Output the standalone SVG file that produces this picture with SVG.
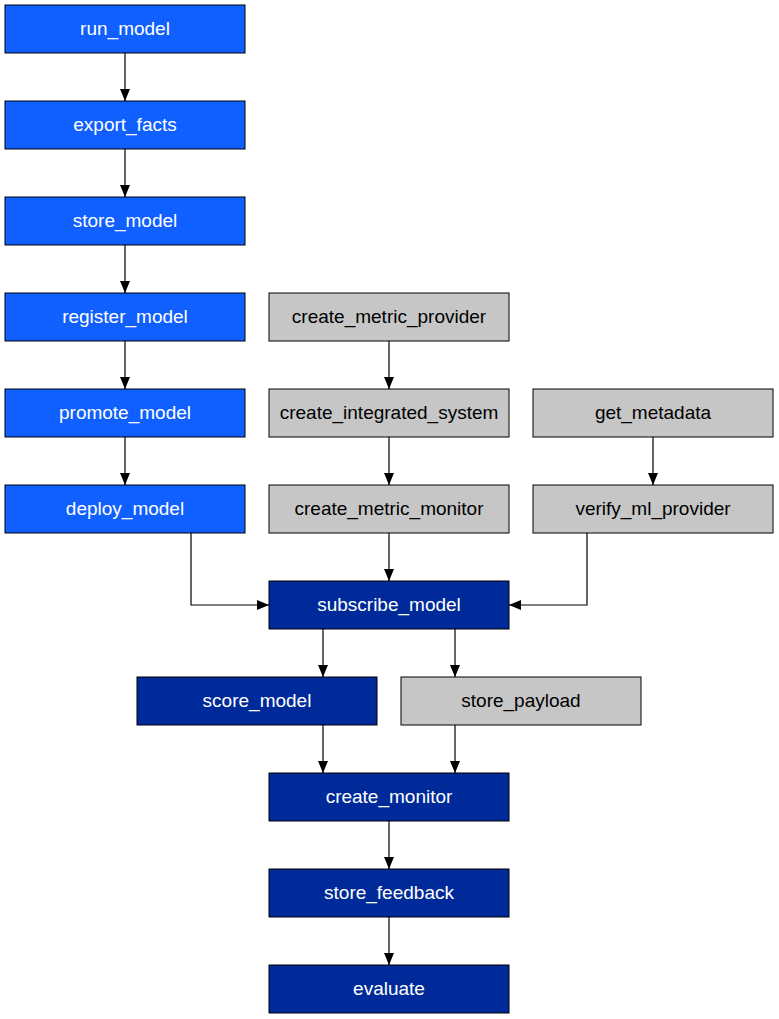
<svg xmlns="http://www.w3.org/2000/svg" width="779" height="1019" viewBox="0 0 779 1019">
<style>
.n rect{stroke:#000;stroke-width:1}
.b rect{fill:#1060ff}
.d rect{fill:#002a9a}
.g rect{fill:#c6c6c6}
text{font-family:"Liberation Sans",Arial,sans-serif;font-size:19px;text-anchor:middle}
.b text,.d text{fill:#fff}
.g text{fill:#000}
.e path{fill:none;stroke:#000;stroke-width:1.2;marker-end:url(#ah)}
</style>
<defs>
<marker id="ah" viewBox="0 0 12 10" refX="12" refY="5" markerWidth="12" markerHeight="10" markerUnits="userSpaceOnUse" orient="auto">
<path d="M0,0 L12,5 L0,10 z" fill="#000"/>
</marker>
</defs>
<rect width="779" height="1019" fill="#fff"/>
<g class="e" id="connectors">
<path d="M125,53 V101"/>
<path d="M125,149 V197"/>
<path d="M125,245 V293"/>
<path d="M125,341 V389"/>
<path d="M125,437 V485"/>
<path d="M389,341 V389"/>
<path d="M389,437 V485"/>
<path d="M653,437 V485"/>
<path d="M191,533 V605 H269"/>
<path d="M389,533 V581"/>
<path d="M587,533 V605 H509"/>
<path d="M323,629 V677"/>
<path d="M455,629 V677"/>
<path d="M323,725 V773"/>
<path d="M455,725 V773"/>
<path d="M389,821 V869"/>
<path d="M389,917 V965"/>
</g>
<g id="run_model" class="n b"><rect x="5" y="5" width="240" height="48"/><text x="125" y="35">run_model</text></g>
<g id="export_facts" class="n b"><rect x="5" y="101" width="240" height="48"/><text x="125" y="131">export_facts</text></g>
<g id="store_model" class="n b"><rect x="5" y="197" width="240" height="48"/><text x="125" y="227">store_model</text></g>
<g id="register_model" class="n b"><rect x="5" y="293" width="240" height="48"/><text x="125" y="323">register_model</text></g>
<g id="promote_model" class="n b"><rect x="5" y="389" width="240" height="48"/><text x="125" y="419">promote_model</text></g>
<g id="deploy_model" class="n b"><rect x="5" y="485" width="240" height="48"/><text x="125" y="515">deploy_model</text></g>
<g id="create_metric_provider" class="n g"><rect x="269" y="293" width="240" height="48"/><text x="389" y="323">create_metric_provider</text></g>
<g id="create_integrated_system" class="n g"><rect x="269" y="389" width="240" height="48"/><text x="389" y="419">create_integrated_system</text></g>
<g id="create_metric_monitor" class="n g"><rect x="269" y="485" width="240" height="48"/><text x="389" y="515">create_metric_monitor</text></g>
<g id="get_metadata" class="n g"><rect x="533" y="389" width="240" height="48"/><text x="653" y="419">get_metadata</text></g>
<g id="verify_ml_provider" class="n g"><rect x="533" y="485" width="240" height="48"/><text x="653" y="515">verify_ml_provider</text></g>
<g id="subscribe_model" class="n d"><rect x="269" y="581" width="240" height="48"/><text x="389" y="611">subscribe_model</text></g>
<g id="score_model" class="n d"><rect x="137" y="677" width="240" height="48"/><text x="257" y="707">score_model</text></g>
<g id="store_payload" class="n g"><rect x="401" y="677" width="240" height="48"/><text x="521" y="707">store_payload</text></g>
<g id="create_monitor" class="n d"><rect x="269" y="773" width="240" height="48"/><text x="389" y="803">create_monitor</text></g>
<g id="store_feedback" class="n d"><rect x="269" y="869" width="240" height="48"/><text x="389" y="899">store_feedback</text></g>
<g id="evaluate" class="n d"><rect x="269" y="965" width="240" height="48"/><text x="389" y="995">evaluate</text></g>
</svg>
